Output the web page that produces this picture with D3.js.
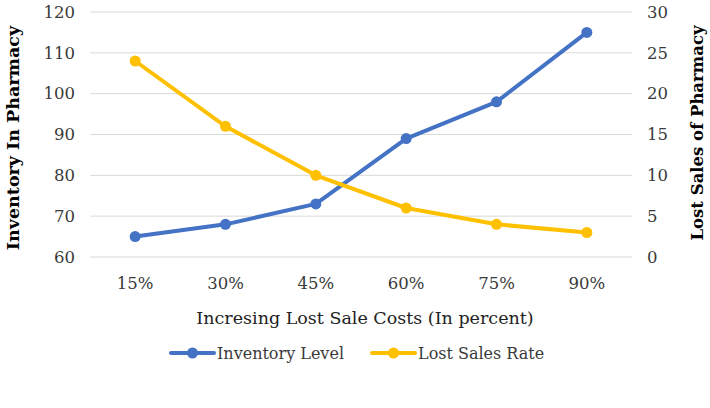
<!DOCTYPE html>
<html><head><meta charset="utf-8">
<script src="https://d3js.org/d3.v7.min.js"></script>
<style>body{margin:0;background:#fff}svg{display:block}text{font-family:"DejaVu Serif","Liberation Serif",serif;}</style>
</head><body><svg id="c" width="710" height="408"></svg>
<script>
const categories = ["15%","30%","45%","60%","75%","90%"];
const inventoryLevel = [65,68,73,89,98,115];
const lostSalesRate = [24,16,10,6,4,3];
const leftTicks = [60,70,80,90,100,110,120];
const rightTicks = [0,5,10,15,20,25,30];

const svg = d3.select("#c");
const m = {l:90, r:632, t:12, b:257};
const x = d3.scalePoint().domain(categories).range([m.l, m.r]).padding(0.5);
const yL = d3.scaleLinear().domain([60,120]).range([m.b, m.t]);
const yR = d3.scaleLinear().domain([0,30]).range([m.b, m.t]);

svg.append("g").selectAll("line").data(leftTicks).join("line")
  .attr("x1", m.l).attr("x2", m.r).attr("y1", d=>yL(d)).attr("y2", d=>yL(d))
  .attr("stroke", "#d9d9d9").attr("stroke-width", 1);

svg.append("g").selectAll("text").data(leftTicks).join("text")
  .attr("x", 75).attr("y", d=>yL(d)).attr("dy","0.35em").attr("text-anchor","end")
  .attr("font-size", 16.5).attr("fill","#3a3a3a").text(d=>d);
svg.append("g").selectAll("text").data(rightTicks).join("text")
  .attr("x", 647).attr("y", d=>yR(d)).attr("dy","0.35em").attr("text-anchor","start")
  .attr("font-size", 16.5).attr("fill","#3a3a3a").text(d=>d);
svg.append("g").selectAll("text").data(categories).join("text")
  .attr("x", d=>x(d)).attr("y", 283).attr("dy","0.35em").attr("text-anchor","middle")
  .attr("font-size", 16.5).attr("fill","#3a3a3a").text(d=>d);

svg.append("text").attr("x", 365).attr("y", 318).attr("dy","0.35em").attr("text-anchor","middle")
  .attr("font-size", 17.5).attr("fill","#222").text("Incresing Lost Sale Costs (In percent)");
svg.append("text").attr("transform","translate(13,138) rotate(-90)").attr("dy","0.35em").attr("text-anchor","middle")
  .attr("font-size", 17.5).attr("font-weight","bold").attr("fill","#000").text("Inventory In Pharmacy");
svg.append("text").attr("transform","translate(697,133) rotate(-90)").attr("dy","0.35em").attr("text-anchor","middle")
  .attr("font-size", 16.5).attr("font-weight","bold").attr("fill","#000").text("Lost Sales of Pharmacy");

function series(vals, y, color){
  const line = d3.line().x((d,i)=>x(categories[i])).y(d=>y(d));
  svg.append("path").datum(vals).attr("d", line).attr("fill","none").attr("stroke", color)
    .attr("stroke-width", 4).attr("stroke-linejoin","round").attr("stroke-linecap","round");
  svg.append("g").selectAll("circle").data(vals).join("circle")
    .attr("cx",(d,i)=>x(categories[i])).attr("cy", d=>y(d)).attr("r",5.5).attr("fill",color);
}
series(inventoryLevel, yL, "#4472C4");
series(lostSalesRate, yR, "#FFC000");

const legend = [{name:"Inventory Level", color:"#4472C4", x:171},{name:"Lost Sales Rate", color:"#FFC000", x:372}];
const lg = svg.append("g").selectAll("g").data(legend).join("g").attr("transform", d=>`translate(${d.x},353)`);
lg.append("line").attr("x1",0).attr("x2",43).attr("stroke",d=>d.color).attr("stroke-width",4).attr("stroke-linecap","round");
lg.append("circle").attr("cx",21.5).attr("r",5.5).attr("fill",d=>d.color);
lg.append("text").attr("x",46).attr("dy","0.35em").attr("font-size",16).attr("fill","#3a3a3a").text(d=>d.name);
</script></body></html>
